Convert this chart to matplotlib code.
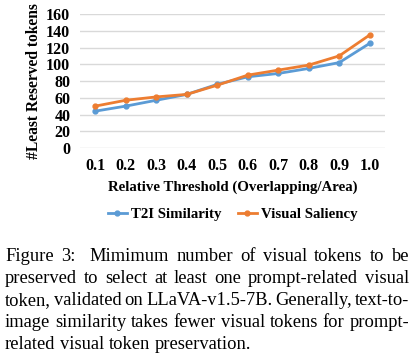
import matplotlib
matplotlib.use("Agg")
import matplotlib.pyplot as plt

thresholds = ["0.1", "0.2", "0.3", "0.4", "0.5", "0.6", "0.7", "0.8", "0.9", "1.0"]
t2i = [44, 50, 57, 64, 76, 85, 89, 95, 102, 125]
saliency = [50, 57, 61, 64, 75, 87, 93, 99, 110, 135]

caption = [
    "Figure 3:  Mimimum number of visual tokens to be",
    "preserved to select at least one prompt-related visual",
    "token, validated on LLaVA-v1.5-7B. Generally, text-to-",
    "image similarity takes fewer visual tokens for prompt-",
    "related visual token preservation.",
]

W, H = 415, 357
fig = plt.figure(figsize=(W / 100, H / 100), dpi=100)
plt.rcParams["font.family"] = "Liberation Serif"

ax = fig.add_axes([80 / W, 1 - 148 / H, 305 / W, 134 / H])
x = range(len(thresholds))
ax.plot(x, t2i, color="#5B9BD5", lw=2, marker="o", ms=3.5, label="T2I Similarity")
ax.plot(x, saliency, color="#ED7D31", lw=2, marker="o", ms=3.5, label="Visual Saliency")
ax.set_ylim(0, 160)
ax.set_yticks(range(0, 161, 20))
ax.set_xlim(-0.5, len(thresholds) - 0.5)
ax.set_xticks(list(x))
ax.set_xticklabels(thresholds)
ax.grid(axis="y", color="#d9d9d9", lw=1)
ax.set_axisbelow(True)
for s in ax.spines.values():
    s.set_visible(False)
ax.tick_params(length=0, labelsize=11.5, pad=7)
for lab in ax.get_xticklabels() + ax.get_yticklabels():
    lab.set_fontweight("bold")
ax.set_xlabel("Relative Threshold (Overlapping/Area)", fontsize=10.7, fontweight="bold", labelpad=5)
ax.set_ylabel("#Least Reserved tokens", fontsize=11.2, fontweight="bold", labelpad=3)
ax.legend(loc="upper center", bbox_to_anchor=(0.5, -0.345), ncol=2, frameon=False,
          prop={"weight": "bold", "size": 10.7}, handlelength=1.3, columnspacing=1.1,
          handletextpad=0.25)

# caption, justified
fig.canvas.draw()
r = fig.canvas.get_renderer()
left, right = 5, 409
fs = 13.3
space = fig.text(0, 0, "a a", fontsize=fs).get_window_extent(r).width - \
    2 * fig.text(0, 0, "a", fontsize=fs).get_window_extent(r).width
for t in fig.texts[-2:]:
    t.remove()
for i, line in enumerate(caption):
    yb = 261 + i * 22
    words = line.split(" ")
    texts = [fig.text(0, 1 - yb / H, w, fontsize=fs, va="baseline") for w in words]
    widths = [t.get_window_extent(r).width if w else 0 for t, w in zip(texts, words)]
    if i < len(caption) - 1:
        gap = (right - left - sum(widths)) / (len(words) - 1)
    else:
        gap = space
    xp = left
    for t, w in zip(texts, widths):
        t.set_x(xp / W)
        xp += w + gap

fig.savefig("out.png", dpi=100)
